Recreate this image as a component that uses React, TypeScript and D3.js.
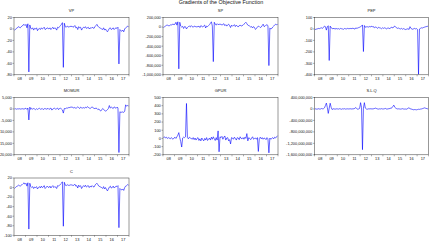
import React from "react";
import * as d3 from "d3";

const YEAR_LABELS = ["08", "09", "10", "11", "12", "13", "14", "15", "16", "17"];

// monthly values, 2008M01 .. 2017M12
const VP = [
  -2, -1, 1, 2, 4, 3, 2, 4, 5, 7, 8, 6,
  8, 2, 9, -75, 7, 1, 0, 2, -2, 1, 0, 2,
  -3, 0, 1, -1, 2, 0, 1, 3, -1, 0, 2, 1,
  0, 2, -1, 1, 3, 0, 2, 1, -2, 3, 2, 4,
  6, 8, 11, -67, 10, 4, 3, 5, 4, 3, 5, 4,
  5, 3, 4, 6, 2, 3, -1, 4, 2, 3, -2, 1,
  3, 2, 4, 1, 2, 3, 0, 2, 1, 3, 2, 1,
  4, 6, 8, 5, 3, 2, 1, 0, -1, 2, -2, 0,
  -3, -5, -2, 1, 2, -1, 0, 2, -1, 1, 2, 1,
  3, -61, -1, -3, -4, -2, -5, 0, 2, 3, 5, 4,
];
const SP = [
  -10, 5, 20, 35, 40, 30, 25, 45, 40, 55, 60, 50,
  60, 100, 40, 110, -875, 100, 20, 0, 15, -30, 10, 5,
  -40, -10, 10, 20, 0, 30, 10, -5, 20, 15, 0, 10,
  5, 20, -10, 30, 15, 0, 25, 40, -20, 20, 10, 30,
  50, 80, 110, 20, -724, 100, 60, 40, 70, 50, 60, 55,
  60, 40, 55, 70, 30, 50, 20, 45, 60, 30, -10, 40,
  20, 30, 50, 10, 40, 20, 0, 30, 40, 20, 30, 40,
  60, 80, 100, 70, 40, 30, 20, 0, 10, -20, 10, -10,
  -50, -30, 0, 20, 10, -10, 0, 30, 60, 10, 20, 40,
  50, 30, -807, -20, -40, -30, 0, 20, 40, 60, 50, 55,
].map((v) => v * 1000);
const PEP = [
  -5, -3, 0, 2, 5, 3, 8, 10, 5, 15, 25, 20,
  -10, 20, 28, -275, 25, 10, 5, 0, 8, -3, 5, 2,
  0, 3, -2, 5, 2, 0, -3, 4, 2, 0, 5, 3,
  2, 6, 0, 8, 3, 5, -2, 10, 5, 8, 12, 15,
  20, 25, 35, -197, 30, 15, 18, 20, 15, 22, 18, 20,
  25, 15, 20, 10, 18, 12, 5, 15, 10, 8, 2, 10,
  5, 10, 8, 0, 5, 10, 3, 5, 12, 15, 8, 20,
  25, 15, 10, 5, 8, 3, 0, 5, -2, 3, 0, -5,
  -3, 0, 2, -5, 20, 5, 0, -3, 2, 5, 0, 3,
  -5, -395, 0, 5, 10, 8, 12, 15, 18, 20, 22, 25,
];
const MOMUR = [
  0, 100, -100, 50, 0, 100, -50, 0, 100, 50, -100, 200,
  300, -200, 400, -4800, 800, -200, 300, -100, 200, 0, -300, 100,
  -200, 100, 300, -100, 0, 200, -300, 100, 200, -100, 0, 300,
  -200, 100, 400, -500, 0, 200, 300, -100, 100, 400, -300, 200,
  300, 0, -400, -1800, 200, 100, 400, 300, 600, 500, 800, 700,
  900, 600, 400, 700, 300, 500, 900, 600, 200, 800, 500, 400,
  600, 300, 800, 500, 1000, 700, 400, 200, 600, 900, 500, 300,
  100, 400, 200, -300, 0, -600, -900, -400, 200, -200, -500, -1000,
  -700, -300, 200, 1500, 400, 800, 500, 200, 900, 600, 300, 800,
  500, -19000, -1200, -1500, -1400, -1300, -1500, -1000, 1800, 1200, 1500, 1300,
];
const GPUR = [
  10, 20, 5, 15, 0, 10, 5, -5, 10, 0, -10, 5,
  15, 0, 20, 40, 71, 10, -40, -105, 5, 15, 10, 20,
  427, 10, -5, 15, 5, 0, -10, 10, -15, 5, -20, 0,
  10, -25, -5, -30, 5, -15, -30, 0, -20, 10, -25, -10,
  5, -20, 15, -10, 20, -5, -25, 10, -20, 92, -163, 20,
  10, 25, -10, 15, 30, -20, 5, 10, -30, -15, -67, 10,
  5, -10, 15, 0, -20, 10, 5, -15, 20, 0, -5, 10,
  -10, 15, 0, 59, -30, 10, 0, -15, 5, 20, -10, 0,
  5, -10, 10, -159, 0, 15, -5, 10, -10, 5, 0, -15,
  10, -5, -176, 5, -10, 0, 10, -5, 15, 5, 20, 33,
];
const SLQ = [
  0, 5, -10, 0, 10, -5, 0, 15, 5, 10, 40, 120,
  205, 50, -155, 30, 200, 60, -20, 0, 10, -10, 0, 5,
  0, -5, 10, 0, -10, 5, 0, 10, -5, 0, 5, 0,
  0, 10, -5, 5, 0, 10, 20, 50, 10, -10, 0, 20,
  220, 50, -1420, 30, 220, 30, 0, -10, 5, 0, 10, 0,
  5, 0, 10, 20, 30, 10, 0, -5, 5, 0, 10, 0,
  0, 5, 20, 0, -5, 10, 0, 30, 20, 40, 90, 133,
  60, 30, 10, 0, 5, 0, -5, 0, 10, 0, -5, 0,
  -10, 0, 30, 40, 10, 0, -10, -20, -30, -20, -25, -30,
  -20, -10, -15, -5, 0, 10, 20, 40, 30, 20, 10, 0,
].map((v) => v * 1e6);
const C = [
  -2, 0, 2, 3, 5, 4, 3, 5, 6, 8, 10, 7,
  9, 3, 10, -87, 9, 2, 0, 2, -2, 1, 0, 2,
  -3, 0, 2, -1, 3, 0, 1, 4, -2, 0, 3, 1,
  0, 3, -1, 2, 4, 0, 2, 1, -2, 4, 3, 5,
  7, 9, 12, -81, 11, 5, 4, 6, 5, 4, 6, 5,
  6, 4, 5, 7, 3, 4, -1, 5, 2, 4, -2, 1,
  4, 2, 5, 1, 3, 4, 0, 3, 1, 4, 2, 1,
  5, 7, 9, 6, 3, 2, 1, 0, -2, 2, -3, 0,
  -4, -7, -3, 1, 3, -1, 0, 3, -1, 1, 3, 2,
  4, -84, -2, -4, -5, -3, -6, 0, 3, 4, 6, 5,
];

const VP_TICKS = [20, 0, -20, -40, -60, -80];
const SP_TICKS = [200000, 0, -200000, -400000, -600000, -800000, -1000000];
const PEP_TICKS = [100, 0, -100, -200, -300, -400];
const MOMUR_TICKS = [5000, 0, -5000, -10000, -15000, -20000];
const GPUR_TICKS = [500, 400, 300, 200, 100, 0, -100, -200];
const SLQ_TICKS = [400000000, 0, -400000000, -800000000, -1200000000, -1600000000];
const C_TICKS = [20, 0, -20, -40, -60, -80, -100];

const PANELS = [
  { title: "VP", values: VP, ticks: VP_TICKS, col: 0, row: 0 },
  { title: "SP", values: SP, ticks: SP_TICKS, col: 1, row: 0 },
  { title: "PEP", values: PEP, ticks: PEP_TICKS, col: 2, row: 0 },
  { title: "MOMUR", values: MOMUR, ticks: MOMUR_TICKS, col: 0, row: 1 },
  { title: "GPUR", values: GPUR, ticks: GPUR_TICKS, col: 1, row: 1 },
  { title: "S.L.Q", values: SLQ, ticks: SLQ_TICKS, col: 2, row: 1 },
  { title: "C", values: C, ticks: C_TICKS, col: 0, row: 2 },
];

const COL_X = [[14, 129], [163, 278], [314.5, 428.5]];
const ROW_Y = [[17.5, 74.8], [97.5, 154.8], [178, 235.3]];

const FONT = "'Liberation Sans', Arial, sans-serif";
const fmt = d3
  .formatLocale({ decimal: ".", thousands: ",", grouping: [3], currency: ["", ""], minus: "-" })
  .format(",");

function Panel({ p }: { p: (typeof PANELS)[number] }) {
  const [x0, x1] = COL_X[p.col];
  const [y0, y1] = ROW_Y[p.row];
  const x = d3.scaleLinear().domain([0, 120]).range([x0, x1]);
  const y = d3
    .scaleLinear()
    .domain([d3.min(p.ticks) as number, d3.max(p.ticks) as number])
    .range([y1, y0]);
  const line = d3
    .line<number>()
    .x((_, i) => x(i + 0.5))
    .y((d) => y(d));
  const yearTicks = d3.range(0, 121, 12);
  return (
    <g>
      <text x={(x0 + x1) / 2} y={y0 - 5.3} fontSize={4} textAnchor="middle" fill="#111">
        {p.title}
      </text>
      <path d={line(p.values) || ""} fill="none" stroke="#0000ff" strokeWidth={0.6} />
      <rect x={x0} y={y0} width={x1 - x0} height={y1 - y0} fill="none" stroke="#333" strokeWidth={0.5} />
      {p.ticks.map((t) => (
        <g key={t}>
          <line x1={x0 - 1.5} x2={x0} y1={y(t)} y2={y(t)} stroke="#333" strokeWidth={0.4} />
          <text x={x0 - 2.2} y={y(t)} dy="0.35em" fontSize={3.9} textAnchor="end" fill="#111">
            {fmt(t)}
          </text>
        </g>
      ))}
      {yearTicks.map((m) => (
        <line key={m} x1={x(m)} x2={x(m)} y1={y1} y2={y1 + 1.5} stroke="#333" strokeWidth={0.4} />
      ))}
      {YEAR_LABELS.map((lab, i) => (
        <text key={lab} x={x(i * 12 + 6)} y={y1 + 5.6} fontSize={3.9} textAnchor="middle" fill="#111">
          {lab}
        </text>
      ))}
    </g>
  );
}

export default function App() {
  return (
    <svg
      width={429}
      height={241}
      style={{ position: "absolute", left: 0, top: 0, background: "#fff" }}
      fontFamily={FONT}
    >
      <rect width={429} height={241} fill="#fff" />
      <text x={221} y={4.4} fontSize={5.4} textAnchor="middle" fill="#111">
        Gradients of the Objective Function
      </text>
      {PANELS.map((p) => (
        <Panel key={p.title} p={p} />
      ))}
    </svg>
  );
}
